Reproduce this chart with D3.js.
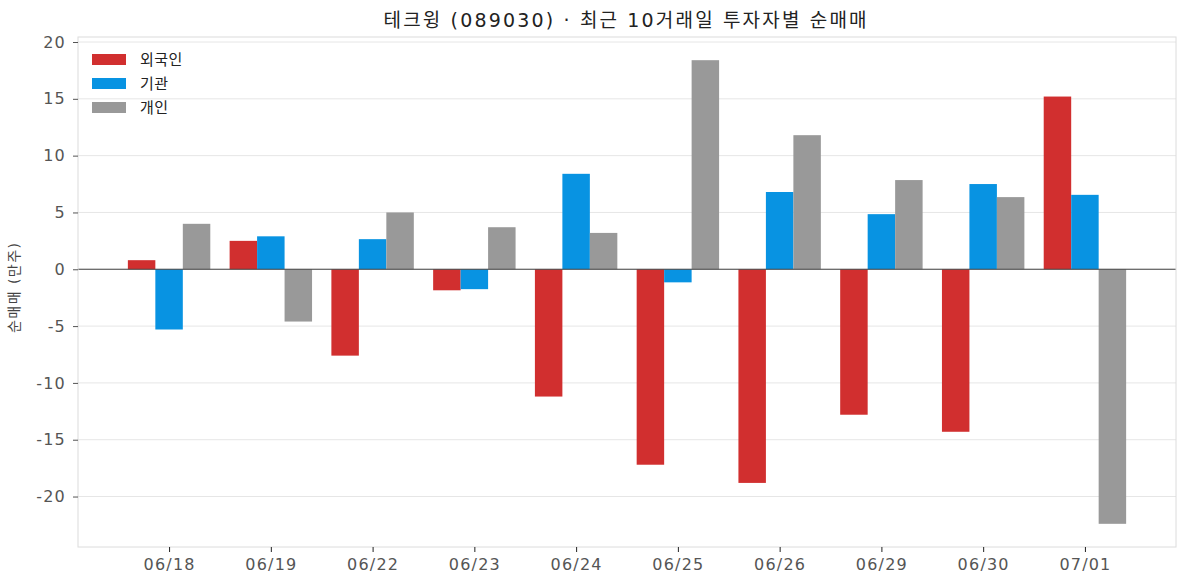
<!doctype html>
<html>
  <head>
    <meta charset="utf-8">
    <script src="https://cdn.jsdelivr.net/npm/d3@7/dist/d3.min.js"></script>
    <style>
      body { margin: 0; background: #fff; }
      text { font-family: "DejaVu Sans", "Noto Sans CJK KR", sans-serif; }
    </style>
  </head>
  <body>
    <div id="chart"></div>
    <script>
      // data (만주)
      var dates = ["06/18", "06/19", "06/22", "06/23", "06/24", "06/25", "06/26", "06/29", "06/30", "07/01"];
      var foreign = [0.8, 2.5, -7.6, -1.85, -11.2, -17.2, -18.8, -12.8, -14.3, 15.2];
      var institution = [-5.3, 2.9, 2.65, -1.75, 8.4, -1.15, 6.8, 4.85, 7.5, 6.55];
      var individual = [4.0, -4.6, 5.0, 3.7, 3.2, 18.4, 11.8, 7.85, 6.35, -22.4];
      var seriesNames = ["외국인", "기관", "개인"];
      var colors = ["#d12f2f", "#0893e2", "#999999"];
      var yTicks = [-20, -15, -10, -5, 0, 5, 10, 15, 20];

      var series = [foreign, institution, individual];

      var W = 1187, H = 587;
      var margin = {top: 37, right: 11, bottom: 40, left: 78};
      var width = W - margin.left - margin.right,
          height = H - margin.top - margin.bottom;

      var svg = d3.select("#chart").append("svg")
        .attr("width", W)
        .attr("height", H);

      var g = svg.append("g")
        .attr("transform", "translate(" + margin.left + "," + margin.top + ")");

      var barW = 0.27;
      var x = d3.scaleLinear().domain([-0.895, dates.length - 1 + 0.895]).range([0, width]);
      var y = d3.scaleLinear().domain([-24.44, 20.44]).range([height, 0]);

      // grid
      g.append("g").selectAll("line")
        .data(yTicks)
        .enter().append("line")
        .attr("x1", 0).attr("x2", width)
        .attr("y1", function(d) { return y(d); })
        .attr("y2", function(d) { return y(d); })
        .attr("stroke", "#e6e6e6")
        .attr("stroke-width", 1);

      // bars
      series.forEach(function(vals, s) {
        g.append("g").selectAll("rect")
          .data(vals)
          .enter().append("rect")
          .attr("x", function(d, i) { return x(i + (s - 1) * barW - barW / 2); })
          .attr("width", function() { return x(barW) - x(0); })
          .attr("y", function(d) { return y(Math.max(0, d)); })
          .attr("height", function(d) { return Math.abs(y(d) - y(0)); })
          .attr("fill", colors[s]);
      });

      // zero line
      g.append("line")
        .attr("x1", 0).attr("x2", width)
        .attr("y1", y(0)).attr("y2", y(0))
        .attr("stroke", "#444")
        .attr("stroke-width", 1.2);

      // frame
      g.append("rect")
        .attr("width", width).attr("height", height)
        .attr("fill", "none")
        .attr("stroke", "#dcdcdc")
        .attr("stroke-width", 1);

      // y axis
      var yAxis = d3.axisLeft(y).tickValues(yTicks)
        .tickFormat(function(d) { return String(d); })
        .tickSize(5).tickPadding(7);
      var ya = g.append("g").call(yAxis);
      ya.select(".domain").remove();
      ya.selectAll(".tick line").attr("stroke", "#555");
      ya.selectAll(".tick text")
        .attr("fill", "#555")
        .style("font-size", "16px")
        .style("letter-spacing", "1.2px");

      // x axis
      var xAxis = d3.axisBottom(x)
        .tickValues(d3.range(dates.length))
        .tickFormat(function(i) { return dates[i]; })
        .tickSize(5).tickPadding(7);
      var xa = g.append("g").attr("transform", "translate(0," + height + ")").call(xAxis);
      xa.select(".domain").remove();
      xa.selectAll(".tick line").attr("stroke", "#222");
      xa.selectAll(".tick text")
        .attr("fill", "#555")
        .style("font-size", "16px")
        .style("letter-spacing", "1.2px");

      // title
      svg.append("text")
        .attr("x", 625)
        .attr("y", 27)
        .attr("text-anchor", "middle")
        .attr("fill", "#222")
        .attr("textLength", 483)
        .attr("lengthAdjust", "spacing")
        .style("font-size", "19px")
        .text("테크윙 (089030) · 최근 10거래일 투자자별 순매매");

      // y label
      svg.append("text")
        .attr("transform", "translate(19,288) rotate(-90)")
        .attr("text-anchor", "middle")
        .attr("fill", "#444")
        .attr("textLength", 90)
        .attr("lengthAdjust", "spacing")
        .style("font-size", "14px")
        .text("순매매 (만주)");

      // legend
      var legend = svg.append("g").attr("transform", "translate(92,54)");
      seriesNames.forEach(function(name, s) {
        legend.append("rect")
          .attr("x", 0).attr("y", s * 24)
          .attr("width", 34).attr("height", 11)
          .attr("fill", colors[s]);
        legend.append("text")
          .attr("x", 48).attr("y", s * 24 + 11)
          .attr("fill", "#222")
          .style("font-size", "15px")
          .style("letter-spacing", "0.5px")
          .text(name);
      });
    </script>
  </body>
</html>
